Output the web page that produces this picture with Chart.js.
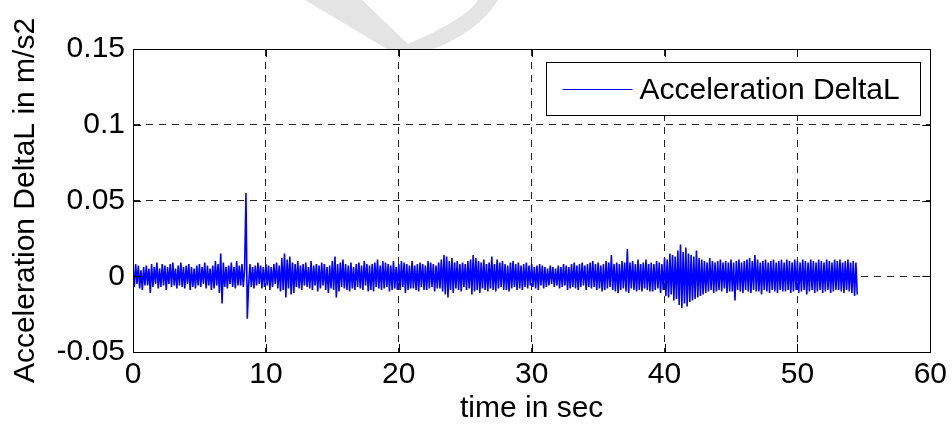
<!DOCTYPE html>
<html>
<head>
<meta charset="utf-8">
<script src="https://cdn.jsdelivr.net/npm/chart.js@4"></script>
<style>
  html, body { margin: 0; padding: 0; background: #fff; }
  #wrap { width: 952px; height: 427px; }
</style>
</head>
<body>
<div id="wrap"><canvas id="accelChart" width="952" height="427"></canvas></div>
<script>
// Acceleration DeltaL, in thousandths of m/s2, one sample every 0.1 s from t = 0
const sampleStep = 0.1;
const accelMilli = [
    6, -7, 8, -5, 7, -8, 4, -9, 6, -6,          // 0 s
    7, -6, 5, -11, 8, -7, 6, -5, 9, -8,
    5, -7, 8, -6, 7, -9, 6, -5, 8, -7,
    9, -6, 5, -8, 7, -6, 9, -7, 6, -8,
    7, -5, 8, -9, 6, -7, 5, -8, 7, -6,
    8, -7, 6, -5, 9, -8, 7, -6, 5, -9,          // 5 s
    7, -8, 10, -6, 8, -11, 15, -18, 9, -7,
    6, -8, 7, -5, 9, -7, 6, -8, 10, -6,
    7, -6, 8, -7, 5, 55, -28, -6, 8, -7,
    6, -8, 7, -6, 9, -5, 7, -8, 6, -7,
    8, -6, 7, -9, 6, -7, 8, -5, 9, -8,          // 10 s
    7, -10, 12, -9, 15, -14, 11, -8, 13, -12,
    9, -11, 8, -7, 10, -8, 7, -9, 8, -6,
    9, -7, 6, -8, 10, -9, 7, -6, 8, -10,
    7, -8, 9, -6, 8, -9, 6, -11, 7, -8,
    10, -9, 13, -14, 8, -10, 9, -7, 11, -8,     // 15 s
    8, -9, 7, -10, 9, -8, 6, -9, 8, -7,
    9, -8, 7, -9, 10, -6, 8, -10, 7, -9,
    8, -10, 9, -7, 11, -8, 7, -9, 10, -8,
    9, -7, 8, -10, 7, -9, 10, -8, 6, -9,
    8, -9, 10, -7, 9, -11, 8, -9, 7, -8,        // 20 s
    10, -8, 7, -9, 8, -10, 9, -7, 8, -9,
    7, -9, 10, -8, 9, -7, 8, -10, 7, -8,
    9, -8, 11, -10, 14, -12, 13, -14, 10, -9,
    12, -11, 9, -8, 10, -9, 8, -10, 9, -7,
    8, -9, 10, -8, 11, -12, 14, -10, 12, -9,    // 25 s
    10, -11, 9, -8, 11, -9, 8, -10, 9, -8,
    13, -9, 8, -10, 11, -8, 9, -7, 10, -9,
    8, -9, 7, -10, 9, -8, 10, -7, 8, -9,
    9, -8, 7, -9, 8, -7, 9, -8, 7, -6,
    8, -7, 6, -8, 7, -9, 8, -6, 7, -8,          // 30 s
    6, -7, 5, -6, 7, -5, 6, -7, 5, -6,
    7, -8, 6, -7, 8, -6, 7, -9, 6, -8,
    8, -7, 9, -8, 7, -9, 8, -7, 9, -6,
    7, -9, 8, -7, 9, -8, 10, -7, 8, -9,
    9, -8, 7, -10, 8, -9, 10, -8, 9, -7,        // 35 s
    14, -9, 8, -10, 9, -11, 8, -9, 10, -8,
    9, -10, 18, -11, 9, -8, 10, -9, 8, -10,
    11, -9, 8, -10, 9, -8, 11, -9, 8, -10,
    9, -10, 8, -9, 10, -8, 9, -11, 8, -9,
    12, -13, 11, -14, 15, -12, 14, -16, 13, -15, // 40 s
    17, -19, 21, -21, 16, -18, 19, -20, 15, -17,
    14, -16, 13, -15, 17, -14, 12, -13, 11, -12,
    10, -11, 9, -10, 12, -9, 10, -11, 9, -10,
    10, -9, 11, -10, 9, -8, 10, -11, 9, -10,
    11, -10, 9, -16, 10, -9, 11, -10, 9, -11,   // 45 s
    10, -9, 11, -10, 12, -11, 10, -9, 14, -10,
    11, -10, 9, -12, 10, -9, 11, -10, 9, -11,
    10, -9, 11, -10, 9, -11, 10, -9, 11, -10,
    9, -10, 11, -9, 10, -11, 9, -10, 11, -9,
    10, -11, 9, -10, 11, -9, 10, -12, 9, -10,   // 50 s
    11, -9, 10, -11, 9, -10, 11, -9, 10, -11,
    9, -10, 11, -9, 10, -11, 9, -10, 11, -9,
    10, -9, 11, -10, 9, -11, 10, -9, 11, -10,
    9, -11, 10, -13, 9, -12
];

const seriesLabel = 'Acceleration DeltaL';
const seriesColor = '#0000ff';
const xTickValues = [0, 10, 20, 30, 40, 50, 60];
const yTickValues = [-0.05, 0, 0.05, 0.1, 0.15];
const xTitle = 'time in sec';
const yTitle = 'Acceleration DeltaL in m/s2';

const FONT = 'Liberation Sans, Arial, Helvetica, sans-serif';

const points = accelMilli.map((v, i) => ({ x: +(i * sampleStep).toFixed(1), y: v / 1000 }));

// MATLAB style box with inward tick marks
const axesBox = {
    id: 'axesBox',
    afterDraw(chart) {
        const { ctx, chartArea: a, scales } = chart;
        const len = 8;
        ctx.save();
        ctx.strokeStyle = '#000';
        ctx.lineWidth = 1;
        ctx.setLineDash([]);
        ctx.beginPath();
        xTickValues.forEach(v => {
            const px = Math.round(scales.x.getPixelForValue(v)) + 0.5;
            ctx.moveTo(px, a.bottom); ctx.lineTo(px, a.bottom - len);
            ctx.moveTo(px, a.top); ctx.lineTo(px, a.top + len);
        });
        yTickValues.forEach(v => {
            const py = Math.round(scales.y.getPixelForValue(v)) + 0.5;
            ctx.moveTo(a.left, py); ctx.lineTo(a.left + len, py);
            ctx.moveTo(a.right, py); ctx.lineTo(a.right - len, py);
        });
        ctx.stroke();
        ctx.strokeRect(Math.round(a.left) + 0.5, Math.round(a.top) + 0.5,
            Math.round(a.right - a.left), Math.round(a.bottom - a.top));
        ctx.restore();
    }
};

// boxed legend in the upper right corner of the axes
const boxLegend = {
    id: 'boxLegend',
    afterDraw(chart) {
        const { ctx, chartArea: a } = chart;
        const ds = chart.data.datasets[0];
        const w = 374, h = 53;
        const x0 = Math.round(a.right) - 10 - w + 0.5;
        const y0 = Math.round(a.top) + 13 + 0.5;
        ctx.save();
        ctx.fillStyle = '#fff';
        ctx.fillRect(x0, y0, w, h);
        ctx.strokeStyle = '#000';
        ctx.lineWidth = 1;
        ctx.strokeRect(x0, y0, w, h);
        const my = Math.round(y0 + h / 2) + 0.5;
        ctx.strokeStyle = seriesColor;
        ctx.beginPath();
        ctx.moveTo(x0 + 16, my);
        ctx.lineTo(x0 + 86, my);
        ctx.stroke();
        ctx.fillStyle = '#000';
        ctx.font = '30px ' + FONT;
        ctx.textBaseline = 'middle';
        ctx.fillText(ds.label, x0 + 93, my + 1);
        ctx.restore();
    }
};

// faint watermark above the axes
const watermark = {
    id: 'watermark',
    beforeDraw(chart) {
        const { ctx, chartArea: a } = chart;
        ctx.save();
        ctx.beginPath();
        ctx.rect(0, 0, chart.width, a.top);
        ctx.clip();
        ctx.fillStyle = '#e4e4e4';
        ctx.beginPath();
        ctx.moveTo(305, 0);
        ctx.lineTo(362, 0);
        ctx.lineTo(408, 44);
        ctx.quadraticCurveTo(468, 18, 478, 0);
        ctx.lineTo(498, 0);
        ctx.quadraticCurveTo(472, 42, 402, 58);
        ctx.closePath();
        ctx.fill();
        ctx.restore();
    }
};

const ctx = document.getElementById('accelChart').getContext('2d');
new Chart(ctx, {
    type: 'line',
    data: {
        datasets: [{
            label: seriesLabel,
            data: points,
            borderColor: seriesColor,
            borderWidth: 1.6,
            pointRadius: 0,
            tension: 0,
            fill: false
        }]
    },
    options: {
        responsive: false,
        animation: false,
        events: [],
        layout: { padding: { top: 49, right: 21, left: 0, bottom: 0 } },
        plugins: {
            legend: { display: false },
            tooltip: { enabled: false }
        },
        scales: {
            x: {
                type: 'linear',
                min: 0,
                max: 60,
                afterBuildTicks: s => { s.ticks = xTickValues.map(v => ({ value: v })); },
                afterFit: s => { s.height = 75; },
                border: { display: false, dash: [7, 6] },
                grid: { color: '#222', lineWidth: 1, drawTicks: false },
                ticks: {
                    padding: 5,
                    maxRotation: 0,
                    color: '#000',
                    font: { family: FONT, size: 30 },
                    callback: v => String(v)
                },
                title: {
                    display: true,
                    text: xTitle,
                    color: '#000',
                    padding: { top: 0, bottom: 0 },
                    font: { family: FONT, size: 30 }
                }
            },
            y: {
                type: 'linear',
                min: -0.05,
                max: 0.15,
                afterBuildTicks: s => { s.ticks = yTickValues.map(v => ({ value: v })); },
                afterFit: s => { s.width = 133; },
                border: { display: false, dash: [7, 6] },
                grid: { color: '#222', lineWidth: 1, drawTicks: false },
                ticks: {
                    padding: 8,
                    color: '#000',
                    font: { family: FONT, size: 30 },
                    callback: v => String(v)
                },
                title: {
                    display: true,
                    text: yTitle,
                    color: '#000',
                    padding: { top: 8, bottom: 0 },
                    font: { family: FONT, size: 30 }
                }
            }
        }
    },
    plugins: [watermark, axesBox, boxLegend]
});
</script>
</body>
</html>
